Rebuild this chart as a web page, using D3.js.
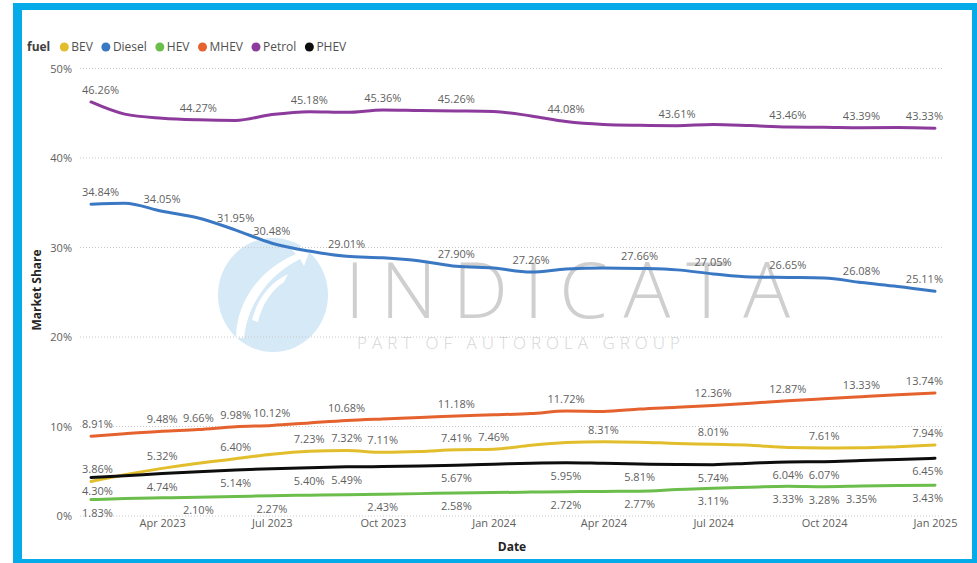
<!DOCTYPE html>
<html><head><meta charset="utf-8">
<script src="https://cdn.jsdelivr.net/npm/d3@7"></script>
<style>
body{margin:0;background:#fff}
svg{display:block}
text{font-family:"Open Sans",sans-serif}
</style>
</head><body>
<svg id="c" width="977" height="563"></svg>
<script>
// ---------- data ----------
const months = ["2023-02","2023-03","2023-04","2023-05","2023-06","2023-07","2023-08","2023-09","2023-10","2023-11","2023-12",
  "2024-01","2024-02","2024-03","2024-04","2024-05","2024-06","2024-07","2024-08","2024-09","2024-10","2024-11","2024-12","2025-01"];
const fuels = ["BEV","Diesel","HEV","MHEV","Petrol","PHEV"];
const bev    = [3.86,4.60,5.32,5.90,6.40,6.90,7.23,7.32,7.11,7.20,7.41,7.46,7.90,8.20,8.31,8.25,8.10,8.01,7.90,7.65,7.61,7.62,7.75,7.94];
const diesel = [34.84,34.95,34.05,33.30,31.95,30.48,29.60,29.01,28.85,28.50,27.90,27.70,27.26,27.60,27.72,27.66,27.50,27.05,26.70,26.65,26.60,26.08,25.65,25.11];
const hev    = [1.83,1.95,2.03,2.10,2.18,2.27,2.32,2.37,2.43,2.50,2.58,2.62,2.67,2.72,2.75,2.77,2.95,3.11,3.22,3.33,3.28,3.35,3.40,3.43];
const mhev   = [8.91,9.20,9.48,9.66,9.98,10.12,10.40,10.68,10.85,11.00,11.18,11.30,11.45,11.72,11.68,11.95,12.15,12.36,12.60,12.87,13.10,13.33,13.55,13.74];
const petrol = [46.26,44.90,44.45,44.27,44.20,44.85,45.18,45.10,45.36,45.30,45.26,45.20,44.70,44.08,43.75,43.65,43.61,43.75,43.62,43.46,43.44,43.39,43.40,43.33];
const phev   = [4.30,4.50,4.74,4.95,5.14,5.28,5.40,5.49,5.52,5.58,5.67,5.78,5.90,5.95,5.88,5.81,5.75,5.74,5.90,6.04,6.07,6.20,6.32,6.45];
// indices of points that carry a data label
const bevLabels    = [0,2,4,6,7,8,10,11,14,17,20,23];
const dieselLabels = [0,2,4,5,7,10,12,15,17,19,21,23];
const hevLabels    = [0,3,5,8,10,13,15,17,19,20,21,23];
const mhevLabels   = [0,2,3,4,5,7,10,13,17,19,21,23];
const petrolLabels = [0,3,6,8,10,13,16,19,21,23];
const phevLabels   = [0,2,4,6,7,10,13,15,17,19,20,23];
const yTicks = [0,10,20,30,40,50];
const xTicks = ["2023-04","2023-07","2023-10","2024-01","2024-04","2024-07","2024-10","2025-01"];

// ---------- styles ----------
const colors = {BEV:"#E2BE2C", Diesel:"#3A78C3", HEV:"#6CBE4C", MHEV:"#E5622F", Petrol:"#8C3A9C", PHEV:"#0d0d0d"};
const series = [
  {name:"Petrol", values:petrol, labels:petrolLabels, pos:"above"},
  {name:"Diesel", values:diesel, labels:dieselLabels, pos:"above"},
  {name:"MHEV",   values:mhev,   labels:mhevLabels,   pos:"above"},
  {name:"BEV",    values:bev,    labels:bevLabels,    pos:"above"},
  {name:"PHEV",   values:phev,   labels:phevLabels,   pos:"below"},
  {name:"HEV",    values:hev,    labels:hevLabels,    pos:"below"}
];

const svg = d3.select("#c");
const parse = d3.timeParse("%Y-%m");
const dates = months.map(parse);

// frame
svg.append("rect").attr("x",13).attr("y",3).attr("width",964).attr("height",560).attr("fill","#05AAE8");
svg.append("rect").attr("x",22).attr("y",10).attr("width",950).attr("height",549).attr("fill","#fff");

const x = d3.scaleTime().domain(d3.extent(dates)).range([91,935]);
const y = d3.scaleLinear().domain([0,50]).range([516,68.5]);
const plotL = 80, plotR = 943;

// watermark
const wm = svg.append("g");
wm.append("ellipse").attr("cx",273).attr("cy",295).attr("rx",55).attr("ry",57).attr("fill","#d5e9f6");
wm.append("path").attr("d","M236,338 C236,300 262,268 296,254 L290,248 L312,245 L304,266 L300,259 C270,274 248,302 244,338 Z").attr("fill","#fff");
wm.append("path").attr("d","M252,320 C258,296 272,282 288,274 L284,282 C272,290 262,304 258,322 Z").attr("fill","#fff");
wm.append("text").attr("x",345).attr("y",318).attr("font-size",78).attr("font-weight",300)
  .attr("fill","#cfcfcf").attr("textLength",445).attr("lengthAdjust","spacing").text("INDICATA");
wm.append("text").attr("x",357).attr("y",349).attr("font-size",17).attr("font-weight",300)
  .attr("fill","#d6d6d6").attr("textLength",323).attr("lengthAdjust","spacing").text("PART OF AUTOROLA GROUP");

// gridlines
svg.append("g").selectAll("line").data(yTicks).join("line")
  .attr("x1",plotL).attr("x2",plotR).attr("y1",d=>y(d)).attr("y2",d=>y(d))
  .attr("stroke","#c9c9c9").attr("stroke-width",1).attr("stroke-dasharray","1,2");

// y axis
const yAxis = d3.axisLeft(y).tickValues(yTicks).tickFormat(d=>d+"%").tickSize(0).tickPadding(0);
const ya = svg.append("g").attr("transform","translate(72,0)").call(yAxis);
ya.select(".domain").remove();
ya.selectAll("text").attr("font-size",11).attr("fill","#605E5C").attr("font-family","Open Sans");

// x axis
const xAxis = d3.axisBottom(x).tickValues(xTicks.map(parse)).tickFormat(d3.timeFormat("%b %Y")).tickSize(0).tickPadding(0);
const xa = svg.append("g").attr("transform","translate(0,519)").call(xAxis);
xa.select(".domain").remove();
xa.selectAll("text").attr("font-size",11).attr("fill","#605E5C").attr("font-family","Open Sans");

// titles
svg.append("text").attr("x",512).attr("y",551).attr("text-anchor","middle").attr("font-size",12)
  .attr("font-weight",700).attr("fill","#252423").text("Date");
svg.append("text").attr("transform","translate(41,290) rotate(-90)").attr("text-anchor","middle")
  .attr("font-size",12).attr("font-weight",700).attr("fill","#252423").text("Market Share");

// lines
const line = d3.line().x((d,i)=>x(dates[i])).y(d=>y(d)).curve(d3.curveMonotoneX);
svg.append("g").selectAll("path").data(series).join("path")
  .attr("d",s=>line(s.values)).attr("fill","none").attr("stroke",s=>colors[s.name])
  .attr("stroke-width",3).attr("stroke-linejoin","round").attr("stroke-linecap","round");

// data labels
const lg = svg.append("g");
series.forEach(s=>{
  s.labels.forEach(i=>{
    const v = s.values[i];
    const t = lg.append("text").attr("font-size",11).attr("fill","#5f5f5f")
      .attr("text-anchor","middle")
      .attr("y", s.pos==="above" ? y(v)-8 : y(v)+17)
      .text(v.toFixed(2)+"%");
    const w = t.node().getComputedTextLength();
    let cx = x(dates[i]);
    cx = Math.max(plotL+2+w/2, Math.min(plotR - w/2, cx));
    t.attr("x",cx);
  });
});

// legend
const leg = svg.append("g");
const ft = leg.append("text").attr("x",27).attr("y",51).attr("font-size",12).attr("font-weight",700)
  .attr("fill","#404040").text("fuel");
let cursor = 27 + ft.node().getComputedTextLength() + 14;
fuels.forEach(f=>{
  leg.append("circle").attr("cx",cursor).attr("cy",47).attr("r",4.5).attr("fill",colors[f]);
  const t = leg.append("text").attr("x",cursor+7).attr("y",51).attr("font-size",12).attr("fill","#505050").text(f);
  cursor = cursor + 7 + t.node().getComputedTextLength() + 13;
});
</script>
</body></html>
